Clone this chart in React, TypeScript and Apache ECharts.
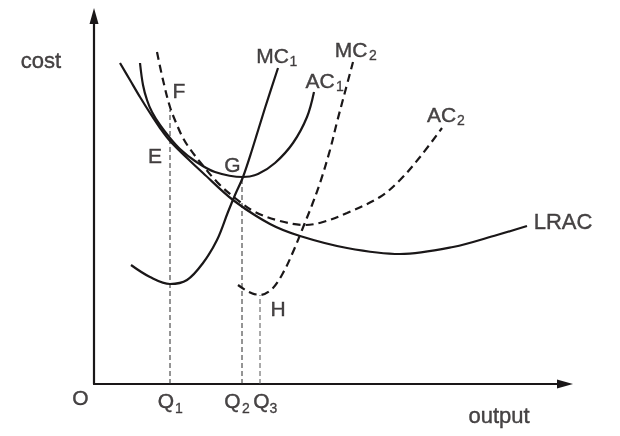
import { useEffect, useRef } from "react";
import * as echarts from "echarts";

// Curves (output, cost) with the origin at the axes' corner
const lrac = [
  [26, 321], [36, 304], [46, 287], [56, 271], [66, 256], [76, 243], [93, 226],
  [109, 211], [139, 184], [176, 160], [206, 148], [253, 136], [306, 130],
  [359, 137], [403, 149], [433, 158],
];
const ac1 = [
  [46, 321], [49, 299], [53, 284], [58, 272], [66, 259], [76, 246], [86, 235],
  [101, 223], [121, 212], [149, 207], [164, 210], [181, 221], [199, 241],
  [213, 267], [220, 292],
];
const ac2 = [
  [63, 332], [69, 304], [76, 277], [83, 259], [89, 246], [96, 235], [106, 222],
  [123, 202], [141, 186], [161, 172], [186, 163], [211, 159], [229, 162],
  [253, 171], [286, 187], [306, 204], [326, 227], [348, 256],
];
const mc1 = [
  [37, 119], [56, 107], [76, 100], [93, 104], [109, 121], [123, 144], [134, 172],
  [141, 189], [149, 207], [158, 234], [171, 276], [184, 316],
];
const mc2 = [
  [144, 99], [155, 92], [166, 89], [178, 95], [189, 111], [199, 132], [210, 159],
  [218, 179], [226, 201], [236, 234], [243, 262], [251, 292], [259, 322],
];
// Dropped verticals: Q1 (to F), Q2 (to G), Q3 (to H)
const qX = [76, 148, 166];
const qTop = [274, 207, 89];

// Main labels and their anchors (data coords)
const labelText = ["cost", "output", "O", "Q", "Q", "Q", "E", "F", "G", "H", "MC", "AC", "MC", "AC", "LRAC"];
const labelAt = [
  [-53, 323.5], [405, -31.5], [-13.5, -13.5], [72, -16.5], [138.5, -16.5], [167.5, -16.5],
  [61, 229], [85, 294], [138.5, 220], [184, 76], [178.5, 328.5], [226, 303.5],
  [257, 334.5], [347.5, 269.5], [469, 163],
];
const labelBig = [true, true, false, false, false, false, false, false, false, false, false, false, false, false, true];
// Subscripts and their anchors
const subText = ["1", "2", "3", "1", "1", "2", "2"];
const subAt = [
  [85, -23.5], [152, -23.5], [179.5, -23.5], [199.5, 323.5], [246, 298.5],
  [279, 329.5], [367, 264.5],
];

const FONT = '"Liberation Sans", Arial, Helvetica, sans-serif';
const INK = "#1a1718";

function curve(name: string, data: number[][], dashed: boolean) {
  return {
    type: "line",
    name,
    data,
    smooth: 0.35,
    symbol: "none",
    silent: true,
    z: 3,
    lineStyle: { color: INK, width: 2.2, type: dashed ? [8, 5] : "solid", cap: "butt" },
  };
}

export default function App() {
  const ref = useRef<HTMLDivElement>(null);
  useEffect(() => {
    if (!ref.current) return;
    const chart = echarts.init(ref.current, undefined, { renderer: "svg" });
    const vlines = qX.map((x, i) => ({
      type: "line",
      data: [[x, 0], [x, qTop[i]]],
      symbol: "none",
      silent: true,
      z: 2,
      lineStyle: { color: i === 2 ? "#555" : "#2a2a2a", width: 1, type: [5, 3] },
    }));
    const txt = { fontFamily: FONT, color: INK, textBorderColor: INK, textBorderWidth: 0.4 };
    const mainData = labelText.map((t, i) => ({
      value: labelAt[i],
      label: { formatter: t, fontSize: labelBig[i] ? 22 : 21 },
    }));
    const subData = subText.map((t, i) => ({ value: subAt[i], label: { formatter: t } }));
    const labelSeries = (data: any[], size: number, border: number) => ({
      type: "scatter",
      symbolSize: 0,
      clip: false,
      silent: true,
      z: 10,
      data,
      label: {
        show: true,
        position: "inside",
        fontSize: size,
        ...txt,
        textBorderWidth: border,
      },
    });
    chart.setOption({
      animation: false,
      grid: { left: 94, right: 55, top: 16, bottom: 52, containLabel: false },
      xAxis: {
        type: "value",
        min: 0,
        max: 471,
        axisLine: {
          show: true,
          onZero: false,
          symbol: ["none", "triangle"],
          symbolSize: [9, 16],
          lineStyle: { color: INK, width: 2.2 },
        },
        axisTick: { show: false },
        axisLabel: { show: false },
        splitLine: { show: false },
      },
      yAxis: {
        type: "value",
        min: 0,
        max: 368,
        axisLine: {
          show: true,
          onZero: false,
          symbol: ["none", "triangle"],
          symbolSize: [9, 16],
          lineStyle: { color: INK, width: 2.2 },
        },
        axisTick: { show: false },
        axisLabel: { show: false },
        splitLine: { show: false },
      },
      series: [
        ...vlines,
        curve("LRAC", lrac, false),
        curve("AC1", ac1, false),
        curve("MC1", mc1, false),
        curve("AC2", ac2, true),
        curve("MC2", mc2, true),
        labelSeries(mainData, 21, 0.4),
        labelSeries(subData, 14, 0.3),
      ],
    });
    return () => chart.dispose();
  }, []);
  return (
    <div
      ref={ref}
      style={{ position: "fixed", left: 0, top: 0, width: 620, height: 436 }}
    />
  );
}
